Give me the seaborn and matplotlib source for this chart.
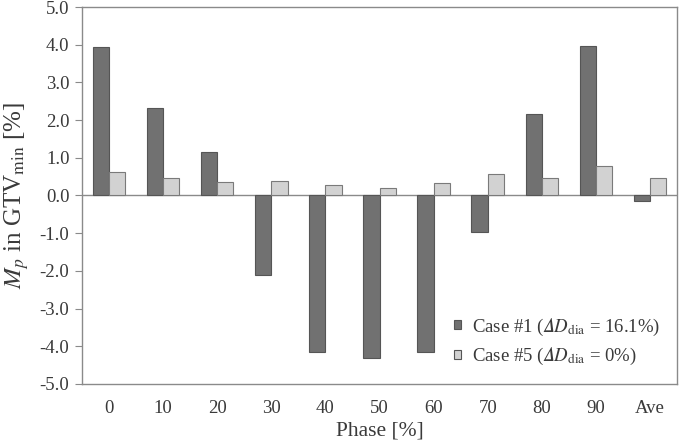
import numpy as np
import pandas as pd
import seaborn as sns
import matplotlib.pyplot as plt

phases = ['0', '10', '20', '30', '40', '50', '60', '70', '80', '90', 'Ave']
case1 = [3.95, 2.32, 1.16, -2.10, -4.15, -4.30, -4.15, -0.96, 2.17, 3.97, -0.15]
case5 = [0.62, 0.47, 0.35, 0.38, 0.27, 0.19, 0.32, 0.57, 0.46, 0.79, 0.47]
labels = ['Case #1 ($\U0001D6E5D_{\\mathrm{dia}}$ = 16.1%)',
          'Case #5 ($\U0001D6E5D_{\\mathrm{dia}}$ = 0%)']

df = pd.DataFrame({'Phase': phases * 2,
                   'Value': case1 + case5,
                   'Case': [labels[0]] * len(phases) + [labels[1]] * len(phases)})

sns.set_style('white')
plt.rcParams['font.family'] = ['Liberation Serif', 'DejaVu Serif']
plt.rcParams['mathtext.fontset'] = 'stix'

fig = plt.figure(figsize=(6.79, 4.48), dpi=100, facecolor='white')
ax = fig.add_axes([82/679, 1 - 384/448, 595/679, 377/448])

sns.barplot(data=df, x='Phase', y='Value', hue='Case', order=phases,
            palette=['#717171', '#d2d2d2'], width=0.6, saturation=1,
            edgecolor='#555555', linewidth=0.8, ax=ax)
for bar in ax.containers[1]:
    bar.set_edgecolor('#7a7a7a')

ax.axhline(0, color='#8a8a8a', lw=1, zorder=0.5)
ax.set_ylim(-5, 5)
ax.set_yticks(np.arange(-5, 5.1, 1))
ax.set_yticklabels(['%.1f' % v for v in np.arange(-5, 5.1, 1)])
ax.set_xlim(-0.5, len(phases) - 0.5)
for s in ax.spines.values():
    s.set_color('#8a8a8a')
    s.set_linewidth(1)
ax.tick_params(axis='y', left=True, length=5, color='#8a8a8a',
               labelsize=13.5, labelcolor='#3a3a3a', pad=4)
ax.tick_params(axis='x', bottom=False, labelsize=13.5, labelcolor='#3a3a3a', pad=8)

ax.set_xlabel('Phase [%]', fontsize=15.5, color='#3a3a3a', labelpad=3)
ax.set_ylabel(r'$M_p$ in GTV$_{\mathrm{min}}$ [%]', fontsize=18,
              color='#3a3a3a', labelpad=6)

leg = ax.legend(loc='lower right', bbox_to_anchor=(1.0, 0.0), frameon=False,
                fontsize=13.5, handlelength=0.35, handleheight=0.35,
                handletextpad=0.6, labelspacing=0.45, labelcolor='#3a3a3a')

plt.savefig('out.png', dpi=100, facecolor='white')
